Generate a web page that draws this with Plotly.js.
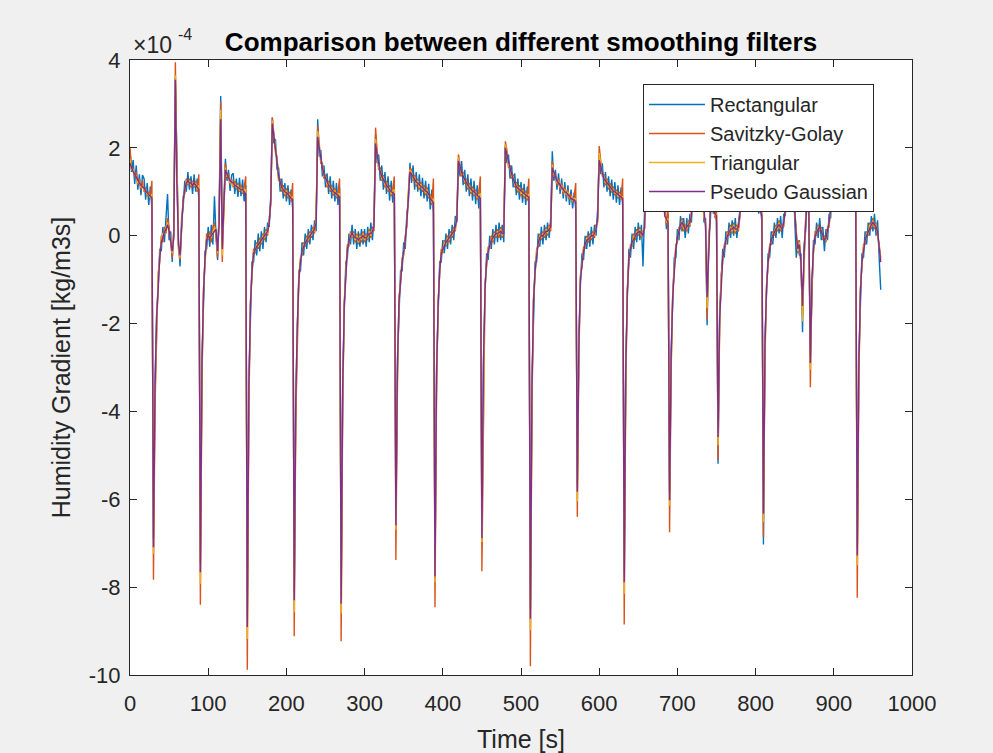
<!DOCTYPE html>
<html>
<head>
<meta charset="utf-8">
<script src="https://cdn.plot.ly/plotly-3.0.1.min.js"></script>
<style>
  html, body { margin: 0; padding: 0; background: #f0f0f0; }
  #chart { width: 993px; height: 753px; }
</style>
</head>
<body>
<div id="chart"></div>
<script>
// Sampling grid of the recording (seconds)
const timeStart = 0;
const timeStep = 2;

// Humidity gradient, in units of 1e-4 kg/m3s, one row per 30 s
const rectangular = [
  1.95, 1.45, 1.72, 1.18, 1.6, 1.05, 1.4, 0.92, 1.38, 1.3, 0.82, 1.2, 0.7, 1.12, 0.62,
  -6.9, -3.3, -1.8, -1.2, -0.3, -0.35, 0.2, -0.15, 0.35, 0.95, -0.1, 0.1, -0.6, 0.15, 3.6,
  1.3, -0.1, -0.7, 0.4, 0.65, 1.25, 1.0, 1.45, 1.05, 1.35, 0.95, 1.4, 1.0, 1.3, 0.85,
  -7.45, -2.8, -1.4, -0.35, -0.3, 0.2, -0.25, 0.25, -0.2, 0.9, 0.0, -0.55, 0.6, 3.18, -0.2,
  0.9, 1.75, 1.25, 1.5, 1.02, 1.38, 1.42, 0.95, 1.3, 0.88, 1.32, 0.9, 1.28, 0.78, 1.15,
  -8.7, -3.3, -1.7, -0.6, -0.6, -0.1, -0.45, 0.05, -0.35, 0.1, -0.3, 0.2, -0.15, 0.3, 0.2,
  0.9, 2.69, 2.1, 2.2, 1.5, 1.55, 1.0, 1.3, 0.85, 1.2, 0.78, 1.15, 0.7, 1.05, 0.62,
  -8.1, -3.6, -2.1, -0.8, -0.8, -0.15, -0.45, 0.05, -0.3, 0.15, -0.2, 0.25, -0.1, 0.35, 0.1,
  2.65, 1.8, 1.95, 1.35, 1.6, 1.1, 1.42, 0.95, 1.35, 0.85, 1.25, 0.78, 1.2, 0.7, 1.1,
  -8.2, -3.3, -1.7, -0.6, -0.5, 0.05, -0.2, 0.25, -0.2, 0.15, -0.3, 0.1, -0.25, 0.15, -0.2,
  0.15, -0.25, 0.2, -0.15, 0.3, -0.1, 0.4, 2.3, 1.65, 1.85, 1.25, 1.6, 1.05, 1.45, 0.95,
  1.35, 0.8, 1.25, 0.75, 1.15, -6.4, -2.8, -1.6, -0.8, -0.8, -0.15, -0.3, 0.5, 0.75, 1.66,
  1.2, 1.6, 1.05, 1.45, 1.0, 1.4, 0.9, 1.32, 0.85, 1.25, 0.78, 1.18, 0.6, 1.05, 0.5,
  -7.55, -3.0, -1.7, -0.6, -0.6, -0.1, -0.4, 0.05, -0.3, 0.15, -0.2, 0.25, -0.1, 0.45, 0.3,
  1.75, 1.35, 1.7, 1.15, 1.5, 1.0, 1.4, 0.9, 1.3, 0.8, 1.25, 0.72, 1.15, 0.62, 1.05,
  -6.7, -2.8, -1.3, -0.4, -0.55, 0.0, -0.3, 0.15, -0.2, 0.25, -0.15, 0.3, -0.1, 0.25, -0.15,
  2.05, 1.65, 1.85, 1.3, 1.6, 1.1, 1.42, 0.92, 1.3, 0.82, 1.22, 0.75, 1.18, 0.7, 1.12,
  0.7, -8.5, -3.3, -1.6, -0.6, -0.6, 0.05, -0.25, 0.2, -0.2, 0.25, -0.1, 0.3, -0.05, 0.4,
  1.92, 1.25, 1.5, 1.05, 1.42, 0.95, 1.3, 0.85, 1.22, 0.78, 1.15, 0.7, 1.05, 0.62, 0.98,
  0.6, -5.65, -2.3, -1.1, -0.4, -0.55, 0.0, -0.3, 0.1, -0.25, 0.2, -0.2, 0.25, 0.0, 0.6,
  1.85, 1.4, 1.65, 1.1, 1.45, 1.0, 1.35, 0.9, 1.28, 0.82, 1.22, 0.75, 1.15, 0.7, 1.1,
  0.7, -7.7, -2.8, -1.4, -0.3, -0.5, 0.05, -0.3, 0.2, -0.15, 0.3, -0.1, 0.25, -0.7, 0.45,
  1.8, 1.3, 1.6, 1.1, 1.45, 1.0, 1.35, 0.9, 1.25, 0.8, 1.1, 0.55, 0.65, 0.15, 0.5,
  -5.85, -2.6, -1.5, -0.5, -0.5, 0.15, -0.1, 0.45, 0.1, 0.4, -0.05, 0.4, 0.05, 0.5, 0.3,
  1.7, 1.2, 1.5, 1.05, 1.4, 0.95, 1.2, 0.3, 0.4, -2.04, -0.05, 0.3, 1.1, 0.5, 0.7,
  0.3, -5.19, -1.7, -1.1, -0.3, -0.5, 0.1, -0.2, 0.3, -0.05, 0.35, 0.0, 0.4, -0.05, 0.35,
  0.6, 1.7, 1.2, 1.5, 1.05, 1.4, 0.95, 1.3, 0.85, 1.2, 0.78, 1.1, 0.5, 0.75, 0.3,
  -7.03, -2.3, -1.3, -0.4, -0.5, 0.1, -0.2, 0.3, -0.05, 0.4, 0.05, 0.45, -0.05, 0.5, 0.45,
  1.6, 1.1, 1.4, 0.9, 1.2, 0.4, -0.5, -0.1, -0.45, -0.4, -2.2, -0.2, 0.1, 1.1, 0.4,
  -2.7, -1.1, -0.1, -0.2, 0.3, -0.05, 0.4, -0.1, 0.2, -0.35, 0.15, -0.1, 0.5, 0.4, 1.6,
  1.1, 1.45, 1.0, 1.35, 0.9, 1.25, 0.8, 1.18, 0.75, 1.12, 0.7, 1.08, 0.65, 1.02, 0.6,
  -7.1, -2.8, -1.4, -0.4, -0.5, 0.1, -0.2, 0.3, 0.0, 0.45, 0.1, 0.5, 0.0, 0.35, -0.5,
  -1.23
];

const savitzkyGolay = [
  2.0, 1.5, 1.55, 1.32, 1.45, 1.15, 1.3, 1.05, 1.25, 1.0, 1.1, 0.9, 1.0, 0.85, 1.25,
  -7.83, -3.9, -1.95, -0.85, -0.6, 0.0, -0.15, 0.2, 0.05, 0.4, 0.2, -0.25, -0.5, 0.1, 3.95,
  1.4, -0.3, -0.55, 0.1, 0.9, 0.95, 1.3, 1.15, 1.3, 1.1, 1.25, 1.1, 1.25, 1.0, 1.4,
  -8.4, -3.4, -1.2, -0.6, 0.05, -0.1, 0.1, -0.15, 0.2, 0.3, 0.0, -0.5, 0.45, 3.05, -0.6,
  0.6, 1.65, 1.3, 1.4, 1.15, 1.3, 1.1, 1.25, 1.05, 1.2, 1.0, 1.15, 0.95, 1.1, 1.35,
  -9.88, -4.0, -1.5, -0.9, -0.3, -0.4, -0.15, -0.3, -0.05, -0.2, 0.05, -0.1, 0.15, 0.0, 0.4,
  0.7, 2.69, 2.35, 1.9, 1.8, 1.25, 1.3, 1.0, 1.15, 0.9, 1.08, 0.85, 1.0, 0.78, 1.2,
  -9.12, -4.2, -2.1, -0.9, -0.5, -0.45, -0.15, -0.25, 0.0, -0.15, 0.1, -0.05, 0.2, 0.05, 0.45,
  2.5, 2.1, 1.65, 1.65, 1.3, 1.4, 1.1, 1.25, 1.0, 1.15, 0.92, 1.08, 0.85, 1.0, 1.3,
  -9.23, -3.9, -1.5, -0.9, -0.2, -0.25, 0.1, -0.05, 0.1, -0.15, 0.05, -0.2, 0.05, -0.15, 0.1,
  -0.15, 0.05, -0.1, 0.15, -0.05, 0.2, 0.1, 2.46, 1.95, 1.5, 1.55, 1.25, 1.38, 1.1, 1.25,
  1.0, 1.15, 0.9, 1.05, 1.35, -7.38, -3.4, -1.4, -1.1, -0.5, -0.45, 0.0, 0.2, 1.0, 1.55,
  1.5, 1.25, 1.38, 1.12, 1.3, 1.05, 1.22, 1.0, 1.15, 0.92, 1.1, 0.85, 0.95, 0.7, 1.3,
  -8.46, -3.6, -1.5, -0.9, -0.3, -0.4, -0.1, -0.25, 0.0, -0.15, 0.1, -0.05, 0.2, 0.1, 0.5,
  1.85, 1.6, 1.35, 1.45, 1.18, 1.3, 1.05, 1.2, 0.95, 1.12, 0.9, 1.05, 0.82, 0.98, 1.35,
  -7.64, -3.4, -1.1, -0.7, -0.25, -0.3, 0.0, -0.15, 0.1, -0.05, 0.15, -0.05, 0.2, -0.05, 0.15,
  2.15, 1.95, 1.55, 1.6, 1.3, 1.4, 1.1, 1.22, 0.98, 1.15, 0.9, 1.08, 0.85, 1.02, 0.8,
  1.3, -9.8, -3.9, -1.4, -0.9, -0.3, -0.25, 0.05, -0.1, 0.1, -0.05, 0.2, 0.0, 0.25, 0.1,
  1.7, 1.35, 1.4, 1.15, 1.3, 1.05, 1.2, 0.95, 1.1, 0.9, 1.05, 0.82, 0.95, 0.75, 0.9,
  1.2, -6.4, -2.8, -0.9, -0.7, -0.25, -0.3, 0.0, -0.15, 0.05, -0.1, 0.1, -0.05, 0.25, 0.3,
  2.04, 1.7, 1.35, 1.4, 1.15, 1.3, 1.05, 1.2, 0.98, 1.12, 0.92, 1.05, 0.85, 1.0, 0.82,
  1.3, -8.85, -3.4, -1.2, -0.6, -0.2, -0.25, 0.05, -0.1, 0.15, 0.0, 0.2, -0.05, 0.1, 0.15,
  1.7, 1.45, 1.5, 1.2, 1.35, 1.1, 1.25, 1.0, 1.15, 0.9, 1.0, 0.65, 0.55, 0.25, 0.75,
  -6.75, -3.1, -1.3, -0.8, -0.2, -0.15, 0.2, 0.15, 0.4, 0.1, 0.25, 0.1, 0.35, 0.2, 0.55,
  1.6, 1.35, 1.4, 1.15, 1.3, 1.05, 1.1, 0.4, 0.3, -1.9, -0.3, 0.6, 0.8, 0.8, 0.4,
  0.8, -5.1, -2.1, -0.9, -0.6, -0.2, -0.2, 0.1, 0.0, 0.25, 0.05, 0.3, 0.05, 0.25, 0.1,
  0.45, 1.6, 1.35, 1.4, 1.15, 1.3, 1.05, 1.2, 0.95, 1.1, 0.9, 1.05, 0.6, 0.65, 0.85,
  -6.86, -2.8, -1.1, -0.7, -0.2, -0.2, 0.1, 0.0, 0.25, 0.1, 0.35, 0.1, 0.25, 0.2, 0.7,
  1.5, 1.25, 1.3, 1.0, 1.1, 0.5, 0.1, -0.4, -0.1, -0.7, -1.8, -0.5, 0.4, 0.8, 0.7,
  -3.45, -1.2, -0.4, 0.1, 0.0, 0.25, 0.1, 0.2, -0.1, 0.0, -0.15, 0.2, 0.2, 0.7, 1.5,
  1.4, 1.15, 1.3, 1.05, 1.2, 0.95, 1.1, 0.88, 1.05, 0.82, 1.0, 0.8, 0.95, 0.72, 1.2,
  -8.24, -3.4, -1.2, -0.7, -0.2, -0.2, 0.1, 0.0, 0.3, 0.15, 0.4, 0.15, 0.3, 0.0, -0.2,
  -0.5
];

const triangular = [
  1.75, 1.5, 1.5, 1.38, 1.36, 1.2, 1.24, 1.1, 1.15, 1.04, 1.05, 0.94, 0.96, 0.86, 0.95,
  -7.24, -3.6, -1.9, -0.95, -0.45, -0.1, 0.05, 0.05, 0.2, 0.3, 0.05, -0.05, -0.4, 0.0, 3.65,
  1.3, -0.25, -0.5, 0.15, 0.85, 1.0, 1.25, 1.2, 1.25, 1.15, 1.2, 1.15, 1.2, 1.05, 1.15,
  -7.92, -3.2, -1.25, -0.55, -0.05, -0.05, 0.0, -0.05, 0.1, 0.2, 0.1, -0.4, 0.35, 2.87, -0.45,
  0.65, 1.55, 1.35, 1.35, 1.2, 1.25, 1.15, 1.18, 1.1, 1.14, 1.04, 1.08, 1.0, 1.04, 1.05,
  -9.18, -3.7, -1.55, -0.85, -0.35, -0.35, -0.2, -0.25, -0.1, -0.15, 0.0, -0.05, 0.1, 0.05, 0.35,
  0.75, 2.62, 2.32, 1.95, 1.75, 1.3, 1.25, 1.05, 1.1, 0.95, 1.03, 0.9, 0.95, 0.82, 0.9,
  -8.57, -4.0, -2.05, -0.95, -0.55, -0.4, -0.2, -0.2, -0.05, -0.1, 0.05, 0.0, 0.15, 0.1, 0.38,
  2.38, 2.05, 1.7, 1.6, 1.35, 1.35, 1.15, 1.2, 1.05, 1.1, 0.96, 1.03, 0.9, 0.95, 0.95,
  -8.6, -3.7, -1.55, -0.85, -0.25, -0.2, 0.05, 0.0, 0.05, -0.1, 0.0, -0.15, 0.0, -0.1, 0.05,
  -0.1, 0.0, -0.05, 0.1, 0.0, 0.15, 0.15, 2.2, 1.9, 1.55, 1.5, 1.3, 1.33, 1.15, 1.2,
  1.05, 1.1, 0.95, 1.02, 1.05, -6.7, -3.2, -1.45, -1.05, -0.55, -0.4, -0.05, 0.25, 0.95, 1.5,
  1.45, 1.3, 1.33, 1.17, 1.25, 1.1, 1.17, 1.05, 1.1, 0.97, 1.05, 0.9, 0.9, 0.75, 0.85,
  -7.89, -3.4, -1.55, -0.85, -0.35, -0.35, -0.15, -0.2, -0.05, -0.1, 0.05, 0.0, 0.15, 0.15, 0.45,
  1.78, 1.58, 1.4, 1.4, 1.23, 1.25, 1.1, 1.15, 1.0, 1.07, 0.95, 1.0, 0.87, 0.93, 0.95,
  -6.97, -3.2, -1.15, -0.65, -0.3, -0.25, -0.05, -0.1, 0.05, 0.0, 0.1, 0.03, 0.15, 0.0, 0.1,
  2.08, 1.9, 1.6, 1.55, 1.35, 1.35, 1.15, 1.17, 1.03, 1.1, 0.95, 1.03, 0.9, 0.97, 0.85,
  0.95, -8.98, -3.7, -1.45, -0.85, -0.35, -0.2, 0.0, -0.05, 0.05, 0.0, 0.15, 0.05, 0.2, 0.15,
  1.62, 1.4, 1.35, 1.2, 1.25, 1.1, 1.15, 1.0, 1.05, 0.94, 1.0, 0.86, 0.9, 0.79, 0.85,
  0.85, -6.05, -2.65, -0.95, -0.65, -0.3, -0.25, -0.05, -0.1, 0.0, -0.05, 0.05, 0.0, 0.2, 0.35,
  1.88, 1.65, 1.4, 1.35, 1.2, 1.25, 1.1, 1.15, 1.02, 1.07, 0.96, 1.01, 0.89, 0.95, 0.85,
  0.9, -8.15, -3.2, -1.25, -0.55, -0.25, -0.2, 0.0, -0.05, 0.1, 0.05, 0.15, 0.0, 0.05, 0.18,
  1.65, 1.48, 1.45, 1.25, 1.3, 1.15, 1.2, 1.05, 1.1, 0.95, 0.95, 0.7, 0.5, 0.3, 0.4,
  -6.14, -2.95, -1.35, -0.75, -0.25, -0.1, 0.15, 0.2, 0.35, 0.15, 0.2, 0.15, 0.3, 0.25, 0.5,
  1.55, 1.38, 1.35, 1.2, 1.25, 1.1, 1.05, 0.45, 0.25, -1.65, -0.25, 0.55, 0.85, 0.75, 0.45,
  0.5, -4.77, -2.0, -0.95, -0.55, -0.25, -0.15, 0.05, 0.05, 0.2, 0.1, 0.25, 0.1, 0.2, 0.15,
  0.48, 1.55, 1.38, 1.35, 1.2, 1.25, 1.1, 1.15, 1.0, 1.05, 0.94, 1.0, 0.65, 0.62, 0.5,
  -6.52, -2.65, -1.15, -0.65, -0.25, -0.15, 0.05, 0.05, 0.2, 0.15, 0.3, 0.15, 0.2, 0.25, 0.65,
  1.45, 1.28, 1.25, 1.05, 1.05, 0.55, 0.05, -0.35, -0.15, -0.65, -1.95, -0.45, 0.35, 0.85, 0.65,
  -3.05, -1.1, -0.35, 0.05, 0.05, 0.2, 0.15, 0.15, -0.05, -0.05, -0.1, 0.15, 0.25, 0.65, 1.45,
  1.35, 1.2, 1.25, 1.1, 1.15, 1.0, 1.05, 0.93, 1.0, 0.87, 0.95, 0.84, 0.9, 0.77, 0.9,
  -7.5, -3.2, -1.25, -0.65, -0.25, -0.15, 0.05, 0.05, 0.25, 0.2, 0.35, 0.2, 0.25, 0.05, -0.25,
  -0.55
];

const pseudoGaussian = [
  1.65, 1.55, 1.45, 1.4, 1.32, 1.25, 1.2, 1.15, 1.12, 1.08, 1.02, 0.98, 0.92, 0.9, 0.86,
  -7.09, -3.5, -1.9, -1.0, -0.5, -0.15, 0.0, 0.08, 0.15, 0.25, 0.1, -0.1, -0.35, -0.05, 3.55,
  1.2, -0.2, -0.45, 0.2, 0.8, 1.05, 1.2, 1.25, 1.2, 1.2, 1.15, 1.2, 1.15, 1.1, 1.05,
  -7.66, -3.0, -1.3, -0.5, -0.1, 0.0, -0.05, 0.0, 0.05, 0.1, 0.15, -0.35, 0.3, 2.65, -0.3,
  0.7, 1.5, 1.4, 1.3, 1.25, 1.22, 1.2, 1.15, 1.12, 1.1, 1.08, 1.05, 1.05, 1.0, 0.95,
  -8.91, -3.5, -1.6, -0.8, -0.4, -0.3, -0.25, -0.2, -0.15, -0.1, -0.05, 0.0, 0.05, 0.1, 0.3,
  0.8, 2.55, 2.3, 2.0, 1.7, 1.35, 1.2, 1.1, 1.05, 1.0, 0.98, 0.95, 0.9, 0.85, 0.82,
  -8.3, -3.8, -2.0, -1.0, -0.6, -0.35, -0.25, -0.15, -0.1, -0.05, 0.0, 0.05, 0.1, 0.15, 0.3,
  2.25, 2.0, 1.75, 1.55, 1.4, 1.3, 1.2, 1.15, 1.1, 1.05, 1.0, 0.98, 0.95, 0.9, 0.88,
  -8.38, -3.5, -1.6, -0.8, -0.3, -0.15, 0.0, 0.05, 0.0, -0.05, -0.05, -0.1, -0.05, -0.05, 0.0,
  -0.05, -0.05, 0.0, 0.05, 0.05, 0.1, 0.2, 2.1, 1.85, 1.6, 1.45, 1.35, 1.28, 1.2, 1.15,
  1.1, 1.05, 1.0, 0.98, 0.95, -6.59, -3.0, -1.5, -1.0, -0.6, -0.35, -0.1, 0.3, 0.9, 1.45,
  1.4, 1.35, 1.28, 1.22, 1.2, 1.15, 1.12, 1.1, 1.05, 1.02, 1.0, 0.95, 0.85, 0.8, 0.75,
  -7.76, -3.2, -1.6, -0.8, -0.4, -0.3, -0.2, -0.15, -0.1, -0.05, 0.0, 0.05, 0.1, 0.2, 0.4,
  1.7, 1.55, 1.45, 1.35, 1.28, 1.2, 1.15, 1.1, 1.05, 1.02, 1.0, 0.95, 0.92, 0.88, 0.85,
  -6.88, -3.0, -1.2, -0.6, -0.35, -0.2, -0.1, -0.05, 0.0, 0.05, 0.05, 0.08, 0.1, 0.05, 0.05,
  2.0, 1.85, 1.65, 1.5, 1.4, 1.3, 1.2, 1.12, 1.08, 1.05, 1.0, 0.98, 0.95, 0.92, 0.9,
  0.88, -8.72, -3.5, -1.5, -0.8, -0.4, -0.15, -0.05, 0.0, 0.0, 0.05, 0.1, 0.1, 0.15, 0.2,
  1.55, 1.45, 1.3, 1.25, 1.2, 1.15, 1.1, 1.05, 1.0, 0.98, 0.95, 0.9, 0.85, 0.82, 0.8,
  0.78, -5.83, -2.5, -1.0, -0.6, -0.35, -0.2, -0.1, -0.08, -0.05, 0.0, 0.0, 0.05, 0.15, 0.4,
  1.72, 1.6, 1.45, 1.3, 1.25, 1.2, 1.15, 1.1, 1.06, 1.02, 1.0, 0.97, 0.93, 0.9, 0.88,
  0.85, -7.89, -3.0, -1.3, -0.5, -0.3, -0.15, -0.08, 0.0, 0.05, 0.08, 0.1, 0.05, 0.0, 0.2,
  1.6, 1.5, 1.4, 1.3, 1.25, 1.2, 1.15, 1.1, 1.05, 1.0, 0.9, 0.75, 0.45, 0.35, 0.3,
  -6.02, -2.8, -1.4, -0.7, -0.3, -0.05, 0.1, 0.25, 0.3, 0.2, 0.15, 0.2, 0.25, 0.3, 0.45,
  1.5, 1.4, 1.3, 1.25, 1.2, 1.15, 1.0, 0.5, 0.2, -1.4, -0.2, 0.5, 0.9, 0.7, 0.5,
  0.45, -4.58, -1.9, -1.0, -0.5, -0.3, -0.1, 0.0, 0.1, 0.15, 0.15, 0.2, 0.15, 0.15, 0.2,
  0.5, 1.5, 1.4, 1.3, 1.25, 1.2, 1.15, 1.1, 1.05, 1.0, 0.98, 0.95, 0.7, 0.6, 0.45,
  -6.33, -2.5, -1.2, -0.6, -0.3, -0.1, 0.0, 0.1, 0.15, 0.2, 0.25, 0.2, 0.15, 0.3, 0.6,
  1.4, 1.3, 1.2, 1.1, 1.0, 0.6, 0.0, -0.3, -0.2, -0.6, -1.6, -0.4, 0.3, 0.9, 0.6,
  -2.9, -1.0, -0.3, 0.0, 0.1, 0.15, 0.2, 0.1, 0.0, -0.1, -0.05, 0.1, 0.3, 0.6, 1.4,
  1.3, 1.25, 1.2, 1.15, 1.1, 1.05, 1.0, 0.98, 0.95, 0.92, 0.9, 0.88, 0.85, 0.82, 0.8,
  -7.28, -3.0, -1.3, -0.6, -0.3, -0.1, 0.0, 0.1, 0.2, 0.25, 0.3, 0.25, 0.2, 0.1, -0.3,
  -0.6
];

const seriesNames = ['Rectangular', 'Savitzky-Golay', 'Triangular', 'Pseudo Gaussian'];
const seriesColors = ['#0072BD', '#D95319', '#EDB120', '#7E2F8E'];
const xTickVals = [0, 100, 200, 300, 400, 500, 600, 700, 800, 900, 1000];
const xTickText = ['0', '100', '200', '300', '400', '500', '600', '700', '800', '900', '1000'];
const yTickVals = [-10, -8, -6, -4, -2, 0, 2, 4];
const yTickText = ['-10', '-8', '-6', '-4', '-2', '0', '2', '4'];

const timeS = pseudoGaussian.map((_, i) => timeStart + i * timeStep);

const seriesValues = [rectangular, savitzkyGolay, triangular, pseudoGaussian];
const traces = seriesValues.map((vals, k) => ({
  type: 'scatter',
  mode: 'lines',
  name: seriesNames[k],
  x: timeS,
  y: vals,
  line: { color: seriesColors[k], width: 1.4 },
  hoverinfo: 'skip'
}));

const FONT = 'Liberation Sans, Arial, Helvetica, sans-serif';
const INK = '#262626';

const layout = {
  width: 993,
  height: 753,
  paper_bgcolor: '#f0f0f0',
  plot_bgcolor: '#ffffff',
  margin: { l: 130, r: 81, t: 60, b: 78, pad: 0 },
  font: { family: FONT, color: INK, size: 22 },
  showlegend: true,
  title: {
    text: '<b>Comparison between different smoothing filters</b>',
    font: { family: FONT, size: 26, color: '#000000' },
    x: 0.5, xref: 'paper', xanchor: 'center',
    y: 1 - 42 / 753, yref: 'container', yanchor: 'middle'
  },
  xaxis: {
    range: [0, 1000],
    tickvals: xTickVals,
    ticktext: xTickText,
    ticks: 'inside',
    ticklen: 7,
    tickwidth: 1,
    tickcolor: INK,
    showline: true,
    linecolor: INK,
    linewidth: 1,
    mirror: 'ticks',
    showgrid: false,
    zeroline: false,
    ticklabelstandoff: 9,
    tickfont: { family: FONT, size: 22, color: INK },
    title: { text: 'Time [s]', font: { family: FONT, size: 25, color: INK }, standoff: 15 }
  },
  yaxis: {
    range: [-10, 4],
    tickvals: yTickVals,
    ticktext: yTickText,
    ticks: 'inside',
    ticklen: 7,
    tickwidth: 1,
    tickcolor: INK,
    showline: true,
    linecolor: INK,
    linewidth: 1,
    mirror: 'ticks',
    showgrid: false,
    zeroline: false,
    ticklabelstandoff: 4,
    tickfont: { family: FONT, size: 22, color: INK },
    title: { text: 'Humidity Gradient [kg/m3s]', font: { family: FONT, size: 25, color: INK }, standoff: 11 }
  },
  legend: {
    x: 0.656, y: 0.961, xanchor: 'left', yanchor: 'top',
    bgcolor: '#ffffff',
    bordercolor: INK,
    borderwidth: 1,
    font: { family: FONT, size: 20, color: INK },
    tracegroupgap: 0,
    itemwidth: 56
  },
  annotations: [
    {
      text: '×10',
      xref: 'paper', yref: 'paper',
      x: 0.001, y: (675 - 45) / 615, xanchor: 'left', yanchor: 'middle',
      showarrow: false,
      font: { family: FONT, size: 23, color: INK }
    },
    {
      text: '-4',
      xref: 'paper', yref: 'paper',
      x: (176 - 130) / 782, y: (675 - 35) / 615, xanchor: 'left', yanchor: 'middle',
      showarrow: false,
      font: { family: FONT, size: 16, color: INK }
    }
  ]
};

Plotly.newPlot('chart', traces, layout, { displayModeBar: false, staticPlot: true });
</script>
</body>
</html>
